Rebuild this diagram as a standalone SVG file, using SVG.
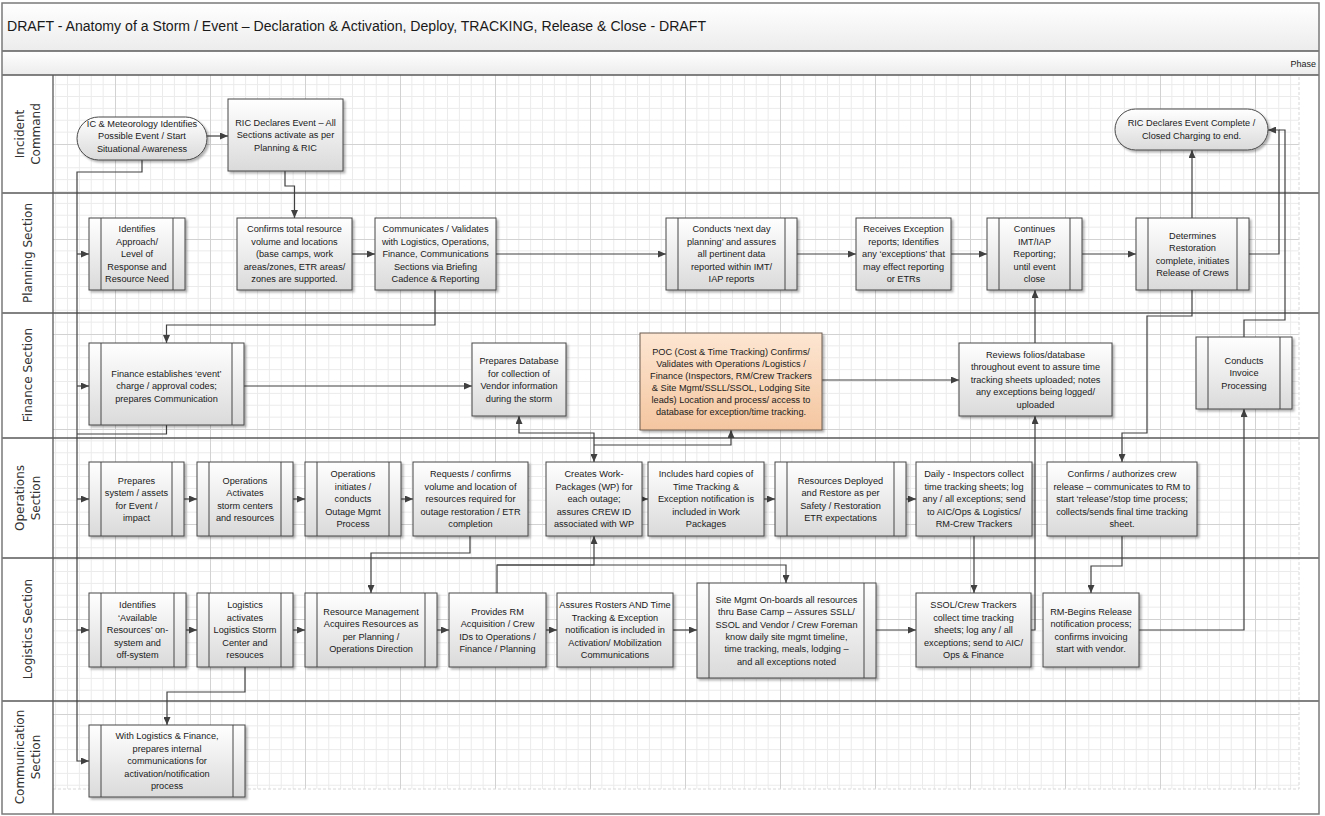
<svg xmlns="http://www.w3.org/2000/svg" width="1325" height="816" viewBox="0 0 1325 816">
<style>
.bx{fill:url(#gb);stroke:#474747;stroke-width:1;filter:url(#ds)}
.or{fill:url(#go);stroke:#6b5a4e;stroke-width:1;filter:url(#ds)}
.sb{fill:none;stroke:#474747;stroke-width:1}
.t{font-family:"Liberation Sans",Arial,sans-serif;font-size:9.2px;fill:#1a1a1a;text-anchor:middle}
.cn{fill:none;stroke:#404040;stroke-width:1.2}
.ar{marker-end:url(#ah)}
.ln{stroke:#595959;stroke-width:1.3;fill:none}
.lbl{font-family:"DejaVu Sans",sans-serif;font-size:12px;fill:#333;text-anchor:middle}
</style>
<defs>
<linearGradient id="gb" x1="0" y1="0" x2="0" y2="1"><stop offset="0" stop-color="#ffffff"/><stop offset="1" stop-color="#dadada"/></linearGradient>
<linearGradient id="go" x1="0" y1="0" x2="0" y2="1"><stop offset="0" stop-color="#fde6d2"/><stop offset="1" stop-color="#f4c6a0"/></linearGradient>
<linearGradient id="gt" x1="0" y1="0" x2="0" y2="1"><stop offset="0" stop-color="#ffffff"/><stop offset="1" stop-color="#ececec"/></linearGradient>
<filter id="ds" x="-10%" y="-10%" width="130%" height="130%"><feDropShadow dx="2" dy="2" stdDeviation="1.2" flood-color="#000" flood-opacity="0.3"/></filter>
<marker id="ah" markerUnits="userSpaceOnUse" markerWidth="8" markerHeight="7" refX="8" refY="3.5" orient="auto-start-reverse"><path d="M0,0L8,3.5L0,7z" fill="#404040"/></marker>
<pattern id="grid" patternUnits="userSpaceOnUse" x="20" y="49" width="95" height="95">
<path d="M11.875,0V95M23.75,0V95M35.625,0V95M47.5,0V95M59.375,0V95M71.25,0V95M83.125,0V95M0,11.875H95M0,23.75H95M0,35.625H95M0,47.5H95M0,59.375H95M0,71.25H95M0,83.125H95" stroke="#ebebeb" stroke-width="1" fill="none"/>
<path d="M0.5,0V95M0,0.5H95" stroke="#d2d2d2" stroke-width="1" fill="none"/>
</pattern>
</defs>

<g id="frame">
<rect x="0" y="0" width="1325" height="816" fill="#ffffff"/>
<rect x="2" y="3" width="1317" height="48" fill="url(#gt)"/>
<rect x="2" y="51" width="1317" height="24" fill="url(#gt)"/>
<rect x="53" y="75" width="1246" height="714" fill="url(#grid)"/>
<path d="M53,789H1299V75" stroke="#d8d8d8" stroke-dasharray="3,2" fill="none"/>
<text x="7" y="31" font-family="Liberation Sans, Arial, sans-serif" font-size="14" fill="#1a1a1a" textLength="699" lengthAdjust="spacingAndGlyphs">DRAFT - Anatomy of a Storm / Event – Declaration &amp; Activation, Deploy, TRACKING, Release &amp; Close - DRAFT</text>
<text x="1316" y="67" font-family="Liberation Sans, Arial, sans-serif" font-size="9" fill="#1a1a1a" text-anchor="end">Phase</text>
<path class="ln" d="M2,51H1319M2,75H1319M2,193H1319M2,313H1319M2,438H1319M2,558H1319M2,701H1319M53,75V814"/>
<rect x="2" y="3" width="1317" height="811" fill="none" stroke="#7a7a7a" stroke-width="1.5"/>
</g>

<g id="lanes">
<text class="lbl" transform="translate(27,134) rotate(-90)"><tspan x="0" y="-3.5">Incident</tspan><tspan x="0" y="12.5">Command</tspan></text>
<text class="lbl" transform="translate(27,253) rotate(-90)"><tspan x="0" y="4.5">Planning Section</tspan></text>
<text class="lbl" transform="translate(27,375) rotate(-90)"><tspan x="0" y="4.5">Finance Section</tspan></text>
<text class="lbl" transform="translate(27,498) rotate(-90)"><tspan x="0" y="-3.5">Operations</tspan><tspan x="0" y="12.5">Section</tspan></text>
<text class="lbl" transform="translate(27,629) rotate(-90)"><tspan x="0" y="4.5">Logistics Section</tspan></text>
<text class="lbl" transform="translate(27,757) rotate(-90)"><tspan x="0" y="-3.5">Communication</tspan><tspan x="0" y="12.5">Section</tspan></text>
</g>

<g id="connectors">
<path class="cn ar" d="M207,136H228"/>
<path class="cn ar" d="M142,160V172H77V761H89"/>
<path class="cn ar" d="M77,254H89"/>
<path class="cn ar" d="M77,386H89"/>
<path class="cn ar" d="M77,499H89"/>
<path class="cn ar" d="M77,630H89"/>
<path class="cn" d="M166.5,425V434H77"/>
<path class="cn ar" d="M285,171V186H294.5V218"/>
<path class="cn ar" d="M352,254H375"/>
<path class="cn ar" d="M496,254H666"/>
<path class="cn ar" d="M797,254H856"/>
<path class="cn ar" d="M951,254H987"/>
<path class="cn ar" d="M1082,254H1136"/>
<path class="cn ar" d="M1192,218V150"/>
<path class="cn ar" d="M1249,254H1279V130H1268"/>
<path class="cn" d="M1244,337V320H1285V130H1279"/>
<path class="cn ar" d="M435,290V325H166.5V343"/>
<path class="cn ar" d="M244,386H472"/>
<path class="cn ar" d="M822,380H959"/>
<path class="cn ar" d="M1035,343V290"/>
<path class="cn ar" d="M1031,630H1035V416"/>
<path class="cn ar" d="M1192,290V316H1147V433H1122V462"/>
<path class="cn ar" d="M1122,536V566H1091V593"/>
<path class="cn ar" d="M1139,630H1244V409"/>
<path class="cn ar" d="M974,536V593"/>
<path class="cn ar" d="M184,499H197"/>
<path class="cn ar" d="M293,499H305"/>
<path class="cn ar" d="M401,499H413"/>
<path class="cn ar" d="M642,499H648"/>
<path class="cn ar" d="M764,499H775"/>
<path class="cn ar" d="M906,499H916"/>
<path class="cn ar" d="M470,536V553H371V593"/>
<path class="cn ar" d="M497,593V565H594V536"/>
<path class="cn ar" d="M497,565H786V583"/>
<path class="cn ar" d="M186,630H197"/>
<path class="cn ar" d="M293,630H305"/>
<path class="cn ar" d="M437,630H449"/>
<path class="cn ar" d="M546,630H557"/>
<path class="cn ar" d="M673,630H697"/>
<path class="cn ar" d="M876,630H916"/>
<path class="cn ar" d="M245,667V692H167V725"/>
<path class="cn ar" d="M519,416V433H594V462" marker-start="url(#ah)"/>
<path class="cn ar" d="M594,445H731V430"/>
</g>

<g id="ic_start"><rect class="bx" x="77" y="117" width="130" height="43" rx="21.5"/><text class="t"><tspan x="142" y="126.7">IC &amp; Meteorology Identifies</tspan><tspan x="142" y="139.2">Possible Event / Start</tspan><tspan x="142" y="151.7">Situational Awareness</tspan></text></g>
<g id="ric_declare"><rect class="bx" x="228" y="99" width="115" height="72"/><text class="t"><tspan x="285.5" y="125.7">RIC Declares Event – All</tspan><tspan x="285.5" y="138.2">Sections activate as per</tspan><tspan x="285.5" y="150.7">Planning &amp; RIC</tspan></text></g>
<g id="ric_complete"><rect class="bx" x="1115" y="109" width="153" height="41" rx="20.5"/><text class="t"><tspan x="1191.5" y="126.4">RIC Declares Event Complete /</tspan><tspan x="1191.5" y="138.9">Closed Charging to end.</tspan></text></g>

<g id="p1"><rect class="bx" x="89" y="218" width="96" height="72"/><path class="sb" d="M101,218V290M173,218V290"/><text class="t"><tspan x="137" y="232.2">Identifies</tspan><tspan x="137" y="244.7">Approach/</tspan><tspan x="137" y="257.2">Level of</tspan><tspan x="137" y="269.7">Response and</tspan><tspan x="137" y="282.2">Resource Need</tspan></text></g>
<g id="p2"><rect class="bx" x="237" y="218" width="115" height="72"/><text class="t"><tspan x="294.5" y="232.2">Confirms total resource</tspan><tspan x="294.5" y="244.7">volume and locations</tspan><tspan x="294.5" y="257.2">(base camps, work</tspan><tspan x="294.5" y="269.7">areas/zones, ETR areas/</tspan><tspan x="294.5" y="282.2">zones are supported.</tspan></text></g>
<g id="p3"><rect class="bx" x="375" y="218" width="121" height="72"/><text class="t"><tspan x="435.5" y="232.2">Communicates / Validates</tspan><tspan x="435.5" y="244.7">with Logistics, Operations,</tspan><tspan x="435.5" y="257.2">Finance, Communications</tspan><tspan x="435.5" y="269.7">Sections via Briefing</tspan><tspan x="435.5" y="282.2">Cadence &amp; Reporting</tspan></text></g>
<g id="p4"><rect class="bx" x="666" y="218" width="131" height="72"/><path class="sb" d="M678,218V290M785,218V290"/><text class="t"><tspan x="731.5" y="232.2">Conducts ‘next day</tspan><tspan x="731.5" y="244.7">planning’ and assures</tspan><tspan x="731.5" y="257.2">all pertinent data</tspan><tspan x="731.5" y="269.7">reported within IMT/</tspan><tspan x="731.5" y="282.2">IAP reports</tspan></text></g>
<g id="p5"><rect class="bx" x="856" y="218" width="95" height="72"/><text class="t"><tspan x="903.5" y="232.2">Receives Exception</tspan><tspan x="903.5" y="244.7">reports; Identifies</tspan><tspan x="903.5" y="257.2">any ‘exceptions’ that</tspan><tspan x="903.5" y="269.7">may effect reporting</tspan><tspan x="903.5" y="282.2">or ETRs</tspan></text></g>
<g id="p6"><rect class="bx" x="987" y="218" width="95" height="72"/><path class="sb" d="M999,218V290M1070,218V290"/><text class="t"><tspan x="1034.5" y="232.2">Continues</tspan><tspan x="1034.5" y="244.7">IMT/IAP</tspan><tspan x="1034.5" y="257.2">Reporting;</tspan><tspan x="1034.5" y="269.7">until event</tspan><tspan x="1034.5" y="282.2">close</tspan></text></g>
<g id="p7"><rect class="bx" x="1136" y="218" width="113" height="72"/><path class="sb" d="M1148,218V290M1237,218V290"/><text class="t"><tspan x="1192.5" y="238.5">Determines</tspan><tspan x="1192.5" y="251">Restoration</tspan><tspan x="1192.5" y="263.5">complete, initiates</tspan><tspan x="1192.5" y="276">Release of Crews</tspan></text></g>

<g id="f1"><rect class="bx" x="89" y="343" width="155" height="82"/><path class="sb" d="M101,343V425M232,343V425"/><text class="t"><tspan x="166.5" y="376.7">Finance establishes ‘event’</tspan><tspan x="166.5" y="389.2">charge / approval codes;</tspan><tspan x="166.5" y="401.7">prepares Communication</tspan></text></g>
<g id="f2"><rect class="bx" x="472" y="343" width="94" height="73"/><text class="t"><tspan x="519" y="364">Prepares Database</tspan><tspan x="519" y="376.5">for collection of</tspan><tspan x="519" y="389">Vendor information</tspan><tspan x="519" y="401.5">during the storm</tspan></text></g>
<g id="f3"><rect class="or" x="640" y="333" width="182" height="97"/><text class="t"><tspan x="731" y="354.7">POC (Cost &amp; Time Tracking) Confirms/</tspan><tspan x="731" y="366.7">Validates  with Operations /Logistics /</tspan><tspan x="731" y="378.7">Finance (Inspectors, RM/Crew Trackers</tspan><tspan x="731" y="390.7">&amp; Site Mgmt/SSLL/SSOL, Lodging Site</tspan><tspan x="731" y="402.7">leads) Location and process/ access to</tspan><tspan x="731" y="414.7">database for exception/time tracking.</tspan></text></g>
<g id="f4"><rect class="bx" x="959" y="343" width="153" height="73"/><text class="t"><tspan x="1035.5" y="357.7">Reviews folios/database</tspan><tspan x="1035.5" y="370.2">throughout event to assure time</tspan><tspan x="1035.5" y="382.7">tracking sheets uploaded; notes</tspan><tspan x="1035.5" y="395.2">any exceptions being logged/</tspan><tspan x="1035.5" y="407.7">uploaded</tspan></text></g>
<g id="f5"><rect class="bx" x="1196" y="337" width="96" height="72"/><path class="sb" d="M1208,337V409M1280,337V409"/><text class="t"><tspan x="1244" y="363.7">Conducts</tspan><tspan x="1244" y="376.2">Invoice</tspan><tspan x="1244" y="388.7">Processing</tspan></text></g>

<g id="o1"><rect class="bx" x="89" y="462" width="95" height="74"/><path class="sb" d="M101,462V536M172,462V536"/><text class="t"><tspan x="136.5" y="483.5">Prepares</tspan><tspan x="136.5" y="496">system / assets</tspan><tspan x="136.5" y="508.5">for Event /</tspan><tspan x="136.5" y="521">impact</tspan></text></g>
<g id="o2"><rect class="bx" x="197" y="462" width="96" height="74"/><path class="sb" d="M209,462V536M281,462V536"/><text class="t"><tspan x="245" y="483.5">Operations</tspan><tspan x="245" y="496">Activates</tspan><tspan x="245" y="508.5">storm centers</tspan><tspan x="245" y="521">and resources</tspan></text></g>
<g id="o3"><rect class="bx" x="305" y="462" width="96" height="74"/><path class="sb" d="M317,462V536M389,462V536"/><text class="t"><tspan x="353" y="477.2">Operations</tspan><tspan x="353" y="489.7">initiates /</tspan><tspan x="353" y="502.2">conducts</tspan><tspan x="353" y="514.7">Outage Mgmt</tspan><tspan x="353" y="527.2">Process</tspan></text></g>
<g id="o4"><rect class="bx" x="413" y="462" width="115" height="74"/><text class="t"><tspan x="470.5" y="477.2">Requests / confirms</tspan><tspan x="470.5" y="489.7">volume and location of</tspan><tspan x="470.5" y="502.2">resources required for</tspan><tspan x="470.5" y="514.7">outage restoration / ETR</tspan><tspan x="470.5" y="527.2">completion</tspan></text></g>
<g id="o5"><rect class="bx" x="546" y="462" width="96" height="74"/><text class="t"><tspan x="594" y="477.2">Creates Work-</tspan><tspan x="594" y="489.7">Packages (WP) for</tspan><tspan x="594" y="502.2">each outage;</tspan><tspan x="594" y="514.7">assures CREW ID</tspan><tspan x="594" y="527.2">associated with WP</tspan></text></g>
<g id="o6"><rect class="bx" x="648" y="462" width="116" height="74"/><text class="t"><tspan x="706" y="477.2">Includes hard copies of</tspan><tspan x="706" y="489.7">Time Tracking &amp;</tspan><tspan x="706" y="502.2">Exception notification is</tspan><tspan x="706" y="514.7">included in Work</tspan><tspan x="706" y="527.2">Packages</tspan></text></g>
<g id="o7"><rect class="bx" x="775" y="462" width="131" height="74"/><path class="sb" d="M787,462V536M894,462V536"/><text class="t"><tspan x="840.5" y="483.5">Resources Deployed</tspan><tspan x="840.5" y="496">and Restore as per</tspan><tspan x="840.5" y="508.5">Safety / Restoration</tspan><tspan x="840.5" y="521">ETR expectations</tspan></text></g>
<g id="o8"><rect class="bx" x="916" y="462" width="116" height="74"/><text class="t"><tspan x="974" y="477.2">Daily - Inspectors collect</tspan><tspan x="974" y="489.7">time tracking sheets; log</tspan><tspan x="974" y="502.2">any / all exceptions; send</tspan><tspan x="974" y="514.7">to AIC/Ops &amp; Logistics/</tspan><tspan x="974" y="527.2">RM-Crew Trackers</tspan></text></g>
<g id="o9"><rect class="bx" x="1047" y="462" width="150" height="74"/><text class="t"><tspan x="1122" y="477.2">Confirms / authorizes crew</tspan><tspan x="1122" y="489.7">release – communicates to RM to</tspan><tspan x="1122" y="502.2">start ‘release’/stop time process;</tspan><tspan x="1122" y="514.7">collects/sends final time tracking</tspan><tspan x="1122" y="527.2">sheet.</tspan></text></g>

<g id="l1"><rect class="bx" x="89" y="593" width="97" height="74"/><path class="sb" d="M101,593V667M174,593V667"/><text class="t"><tspan x="137.5" y="608.2">Identifies</tspan><tspan x="137.5" y="620.7">‘Available</tspan><tspan x="137.5" y="633.2">Resources’ on-</tspan><tspan x="137.5" y="645.7">system and</tspan><tspan x="137.5" y="658.2">off-system</tspan></text></g>
<g id="l2"><rect class="bx" x="197" y="593" width="96" height="74"/><path class="sb" d="M209,593V667M281,593V667"/><text class="t"><tspan x="245" y="608.2">Logistics</tspan><tspan x="245" y="620.7">activates</tspan><tspan x="245" y="633.2">Logistics Storm</tspan><tspan x="245" y="645.7">Center and</tspan><tspan x="245" y="658.2">resouces</tspan></text></g>
<g id="l3"><rect class="bx" x="305" y="593" width="132" height="74"/><path class="sb" d="M317,593V667M425,593V667"/><text class="t"><tspan x="371" y="614.5">Resource Management</tspan><tspan x="371" y="627">Acquires Resources as</tspan><tspan x="371" y="639.5">per Planning /</tspan><tspan x="371" y="652">Operations Direction</tspan></text></g>
<g id="l4"><rect class="bx" x="449" y="593" width="97" height="74"/><text class="t"><tspan x="497.5" y="614.5">Provides RM</tspan><tspan x="497.5" y="627">Acquisition / Crew</tspan><tspan x="497.5" y="639.5">IDs to Operations /</tspan><tspan x="497.5" y="652">Finance / Planning</tspan></text></g>
<g id="l5"><rect class="bx" x="557" y="593" width="116" height="74"/><text class="t"><tspan x="615" y="608.2">Assures Rosters AND Time</tspan><tspan x="615" y="620.7">Tracking &amp; Exception</tspan><tspan x="615" y="633.2">notification is included in</tspan><tspan x="615" y="645.7">Activation/ Mobilization</tspan><tspan x="615" y="658.2">Communications</tspan></text></g>
<g id="l6"><rect class="bx" x="697" y="583" width="179" height="95"/><path class="sb" d="M709,583V678M864,583V678"/><text class="t"><tspan x="786.5" y="603">Site Mgmt On-boards all resources</tspan><tspan x="786.5" y="615.3">thru Base Camp – Assures SSLL/</tspan><tspan x="786.5" y="627.6">SSOL and Vendor / Crew Foreman</tspan><tspan x="786.5" y="639.9">know daily site mgmt timeline,</tspan><tspan x="786.5" y="652.2">time tracking, meals, lodging –</tspan><tspan x="786.5" y="664.5">and all exceptions noted</tspan></text></g>
<g id="l7"><rect class="bx" x="916" y="593" width="115" height="74"/><text class="t"><tspan x="973.5" y="608.2">SSOL/Crew Trackers</tspan><tspan x="973.5" y="620.7">collect time tracking</tspan><tspan x="973.5" y="633.2">sheets; log any / all</tspan><tspan x="973.5" y="645.7">exceptions; send to AIC/</tspan><tspan x="973.5" y="658.2">Ops &amp; Finance</tspan></text></g>
<g id="l8"><rect class="bx" x="1043" y="593" width="96" height="74"/><text class="t"><tspan x="1091" y="614.5">RM-Begins Release</tspan><tspan x="1091" y="627">notification process;</tspan><tspan x="1091" y="639.5">confirms invoicing</tspan><tspan x="1091" y="652">start with vendor.</tspan></text></g>

<g id="c1"><rect class="bx" x="89" y="725" width="156" height="72"/><path class="sb" d="M101,725V797M233,725V797"/><text class="t"><tspan x="167" y="739.2">With Logistics &amp; Finance,</tspan><tspan x="167" y="751.7">prepares internal</tspan><tspan x="167" y="764.2">communications for</tspan><tspan x="167" y="776.7">activation/notification</tspan><tspan x="167" y="789.2">process</tspan></text></g>
</svg>
